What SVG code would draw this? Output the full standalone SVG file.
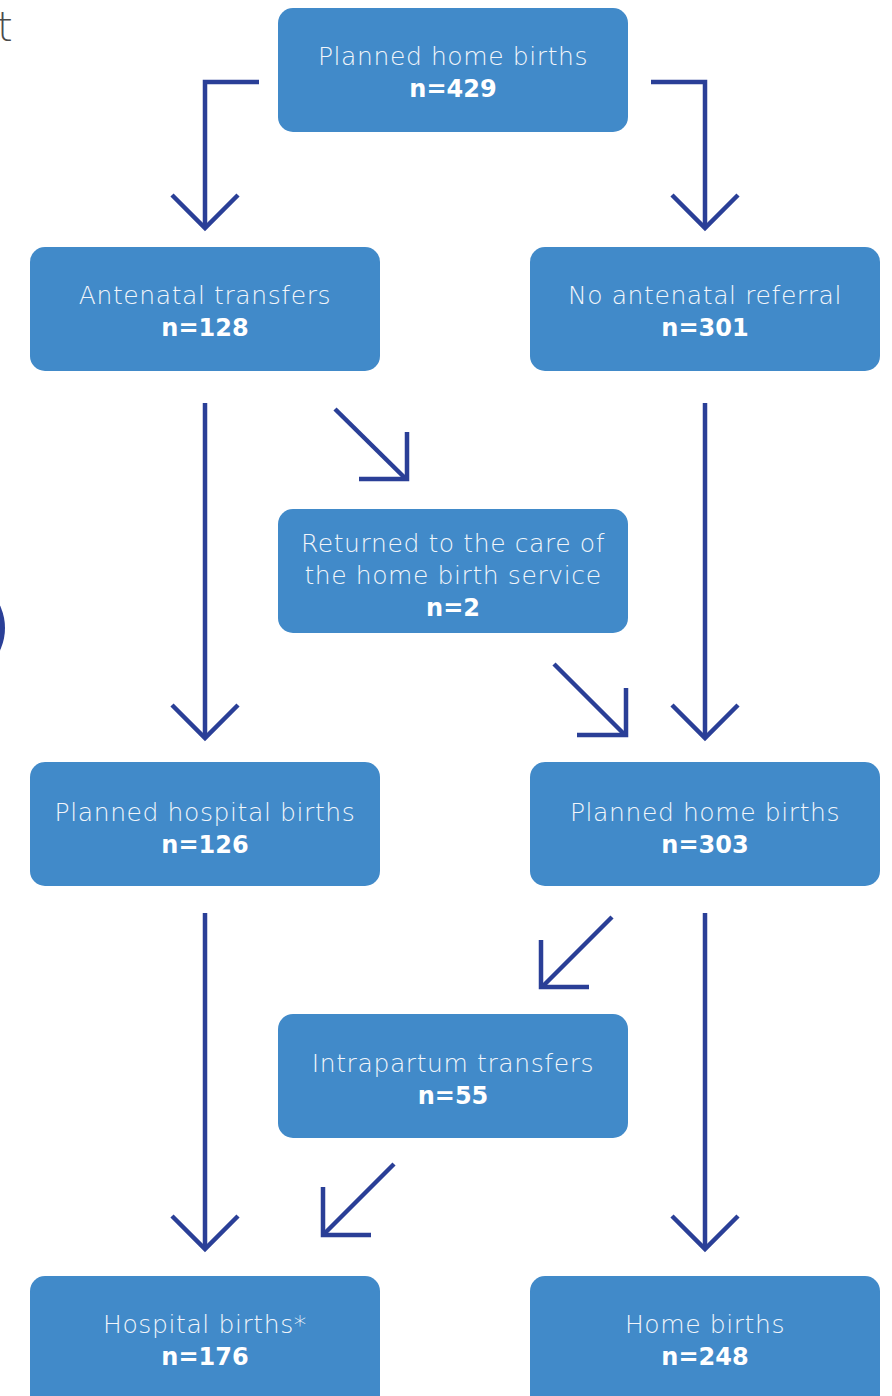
<svg xmlns="http://www.w3.org/2000/svg" width="892" height="1396" viewBox="0 0 892 1396">
<style>
.box{fill:#418ac9}
.t1{font-family:"DejaVu Sans",sans-serif;font-weight:200;font-size:25px;letter-spacing:0.6px;fill:#f2f6fb;text-anchor:middle}
.t2{font-family:"DejaVu Sans",sans-serif;font-weight:bold;font-size:24px;fill:#ffffff;text-anchor:middle}
.c{fill:none;stroke:#2a3f97;stroke-width:4.5;stroke-linecap:butt;stroke-linejoin:miter}
</style>
<rect width="892" height="1396" fill="#ffffff"/>
<text x="-3" y="41" font-family="DejaVu Sans, sans-serif" font-weight="200" font-size="40" fill="#4a4a4a">t</text>
<circle cx="-48" cy="628" r="53" fill="#2a3f97"/>
<g id="connectors">
<polyline class="c" points="259,82 205,82 205,228"/>
<polyline class="c" points="172,195 205,228 238,195"/>
<polyline class="c" points="651,82 705,82 705,228"/>
<polyline class="c" points="672,195 705,228 738,195"/>
<line class="c" x1="205" y1="403" x2="205" y2="737"/>
<polyline class="c" points="172,705 205,738 238,705"/>
<line class="c" x1="335" y1="409" x2="405" y2="478"/>
<polyline class="c" points="407,432 407,479 359,479"/>
<line class="c" x1="705" y1="403" x2="705" y2="737"/>
<polyline class="c" points="672,705 705,738 738,705"/>
<line class="c" x1="554" y1="664" x2="624" y2="734"/>
<polyline class="c" points="626,688 626,735 577,735"/>
<line class="c" x1="205" y1="913" x2="205" y2="1249"/>
<polyline class="c" points="172,1216 205,1249 238,1216"/>
<line class="c" x1="705" y1="913" x2="705" y2="1249"/>
<polyline class="c" points="672,1216 705,1249 738,1216"/>
<line class="c" x1="612" y1="917" x2="543" y2="986"/>
<polyline class="c" points="541,940 541,987 589,987"/>
<line class="c" x1="394" y1="1164" x2="325" y2="1233"/>
<polyline class="c" points="323,1187 323,1235 371,1235"/>
</g>
<g id="n1"><rect class="box" x="278" y="8" width="350" height="124" rx="15"/><text class="t1" x="453" y="65">Planned home births</text><text class="t2" x="453" y="97">n=429</text></g>
<g id="n2"><rect class="box" x="30" y="247" width="350" height="124" rx="15"/><text class="t1" x="205" y="304">Antenatal transfers</text><text class="t2" x="205" y="336">n=128</text></g>
<g id="n3"><rect class="box" x="530" y="247" width="350" height="124" rx="15"/><text class="t1" x="705" y="304">No antenatal referral</text><text class="t2" x="705" y="336">n=301</text></g>
<g id="n4"><rect class="box" x="278" y="509" width="350" height="124" rx="15"/><text class="t1" x="453" y="552">Returned to the care of</text><text class="t1" x="453" y="584">the home birth service</text><text class="t2" x="453" y="616">n=2</text></g>
<g id="n5"><rect class="box" x="30" y="762" width="350" height="124" rx="15"/><text class="t1" x="205" y="821">Planned hospital births</text><text class="t2" x="205" y="853">n=126</text></g>
<g id="n6"><rect class="box" x="530" y="762" width="350" height="124" rx="15"/><text class="t1" x="705" y="821">Planned home births</text><text class="t2" x="705" y="853">n=303</text></g>
<g id="n7"><rect class="box" x="278" y="1014" width="350" height="124" rx="15"/><text class="t1" x="453" y="1072">Intrapartum transfers</text><text class="t2" x="453" y="1104">n=55</text></g>
<g id="n8"><rect class="box" x="30" y="1276" width="350" height="140" rx="15"/><text class="t1" x="205" y="1333">Hospital births*</text><text class="t2" x="205" y="1365">n=176</text></g>
<g id="n9"><rect class="box" x="530" y="1276" width="350" height="140" rx="15"/><text class="t1" x="705" y="1333">Home births</text><text class="t2" x="705" y="1365">n=248</text></g>
</svg>
